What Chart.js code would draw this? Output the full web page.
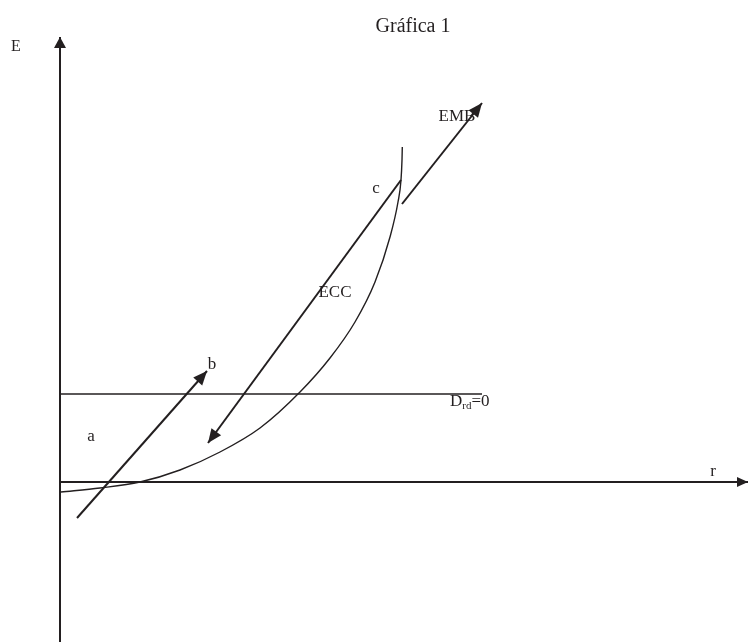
<!DOCTYPE html>
<html lang="es">
<head>
    <meta charset="UTF-8">
    <title>Gráfica 1</title>
    <script src="https://cdn.jsdelivr.net/npm/chart.js"></script>
    <style>
        body { margin: 0; background: #fff; }
    </style>
</head>
<body>
    <canvas id="grafica" width="748" height="643"></canvas>

    <script>
        // coordenadas: origen en el cruce de los ejes (E vertical, r horizontal)
        const ejeE = [{x: 0, y: -160}, {x: 0, y: 445}];
        const ejeR = [{x: 0, y: 0}, {x: 688, y: 0}];
        const lineaDrd = [{x: 0, y: 88}, {x: 422, y: 88}];

        // curva ECC
        const eccX = [1, 40, 80, 120, 160, 200, 240, 270, 295, 315, 330, 338, 341, 342, 342.3];
        const eccY = [-10, -6, 0, 12, 30, 54, 90, 124, 160, 200, 245, 280, 302, 322, 335];

        // flechas (inicio -> punta)
        const flechaAB = [{x: 17, y: -36}, {x: 147, y: 111}];
        const flechaC = [{x: 341, y: 302}, {x: 148, y: 39}];
        const flechaEMB = [{x: 342, y: 278}, {x: 422, y: 379}];

        // textos
        const etiquetas = [
            {t: "Gráfica 1", x: 353, y: 455, size: 20},
            {t: "E", x: -44, y: 435, size: 16},
            {t: "EMB", x: 397, y: 365, size: 17},
            {t: "c", x: 316, y: 293, size: 17},
            {t: "ECC", x: 275, y: 189, size: 17},
            {t: "b", x: 152, y: 117, size: 17},
            {t: "a", x: 31, y: 45, size: 17},
            {t: "r", x: 653, y: 10, size: 17}
        ];
        const etiquetaDrd = {x: 390, y: 80};

        const curva = eccX.map((x, i) => ({x: x, y: eccY[i]}));

        function serie(data, ancho, flecha) {
            return {
                data: data,
                borderColor: "#231f20",
                borderWidth: ancho,
                pointRadius: 0,
                showLine: true,
                fill: false,
                tension: 0,
                flecha: flecha
            };
        }

        // dibuja las puntas de flecha y los textos
        const extras = {
            id: "extras",
            afterDatasetsDraw(chart) {
                const ctx = chart.ctx;
                const sx = chart.scales.x, sy = chart.scales.y;
                ctx.save();
                ctx.fillStyle = "#231f20";
                chart.data.datasets.forEach(ds => {
                    if (!ds.flecha) return;
                    const n = ds.data.length;
                    const p1 = ds.data[n - 2], p2 = ds.data[n - 1];
                    const x1 = sx.getPixelForValue(p1.x), y1 = sy.getPixelForValue(p1.y);
                    const x2 = sx.getPixelForValue(p2.x), y2 = sy.getPixelForValue(p2.y);
                    const ang = Math.atan2(y2 - y1, x2 - x1);
                    const largo = ds.flecha.largo, ancho = ds.flecha.ancho;
                    ctx.beginPath();
                    ctx.moveTo(x2, y2);
                    ctx.lineTo(x2 - largo * Math.cos(ang) + ancho * Math.sin(ang), y2 - largo * Math.sin(ang) - ancho * Math.cos(ang));
                    ctx.lineTo(x2 - largo * Math.cos(ang) - ancho * Math.sin(ang), y2 - largo * Math.sin(ang) + ancho * Math.cos(ang));
                    ctx.closePath();
                    ctx.fill();
                });

                ctx.textAlign = "center";
                ctx.textBaseline = "middle";
                etiquetas.forEach(e => {
                    ctx.font = e.size + "px 'Liberation Serif', serif";
                    ctx.fillText(e.t, sx.getPixelForValue(e.x), sy.getPixelForValue(e.y));
                });

                // D_rd=0 con subíndice
                let px = sx.getPixelForValue(etiquetaDrd.x);
                const py = sy.getPixelForValue(etiquetaDrd.y);
                ctx.textAlign = "left";
                ctx.font = "17px 'Liberation Serif', serif";
                ctx.fillText("D", px, py);
                px += ctx.measureText("D").width;
                ctx.font = "11px 'Liberation Serif', serif";
                ctx.fillText("rd", px, py + 4);
                px += ctx.measureText("rd").width;
                ctx.font = "17px 'Liberation Serif', serif";
                ctx.fillText("=0", px, py);
                ctx.restore();
            }
        };

        new Chart(document.getElementById("grafica"), {
            type: "scatter",
            data: {
                datasets: [
                    serie(ejeE, 2, {largo: 11, ancho: 6}),
                    serie(ejeR, 2, {largo: 11, ancho: 5}),
                    serie(lineaDrd, 1.3, null),
                    Object.assign(serie(curva, 1.4, null), {cubicInterpolationMode: "monotone"}),
                    serie(flechaAB, 2, {largo: 14, ancho: 6}),
                    serie(flechaC, 2, {largo: 14, ancho: 6}),
                    serie(flechaEMB, 2, {largo: 14, ancho: 6})
                ]
            },
            options: {
                responsive: false,
                animation: false,
                layout: { padding: 0 },
                plugins: {
                    legend: { display: false },
                    tooltip: { enabled: false },
                    title: { display: false }
                },
                scales: {
                    x: { type: "linear", min: -60, max: 688, display: false },
                    y: { type: "linear", min: -161, max: 482, display: false }
                }
            },
            plugins: [extras]
        });
    </script>
</body>
</html>
